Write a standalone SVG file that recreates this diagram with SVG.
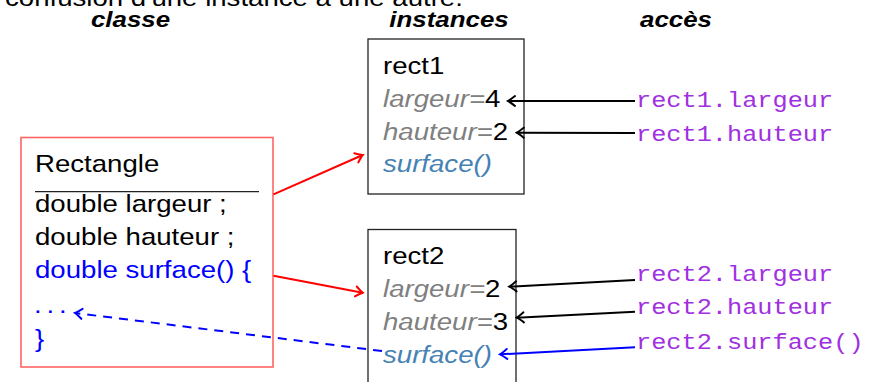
<svg xmlns="http://www.w3.org/2000/svg" width="869" height="382" viewBox="0 0 869 382">
<style>
  text { font-family: "Liberation Sans", Arial, sans-serif; font-size: 24px; fill: #000; }
  .hdr { font-weight: bold; font-style: italic; font-size: 22.5px; text-anchor: middle; }
  .mono { font-family: "Liberation Mono", "Courier New", monospace; font-size: 22px; fill: #a030e0; }
  .attr { font-style: italic; fill: #808080; }
  .meth { font-style: italic; fill: #4682b4; }
  .blue { fill: #0000ff; }
  .box { fill: #fff; stroke: #222; stroke-width: 1.3; }
  .cls { fill: #fff; stroke: #ff6464; stroke-width: 1.6; }
  .conn line { stroke-width: 2; fill: none; }
  .k { stroke: #000; marker-end: url(#ak); }
  .r { stroke: #ff0000; marker-end: url(#ar); }
  .b { stroke: #0000ff; marker-end: url(#ab); }
  .bd { stroke: #0000ff; stroke-dasharray: 9 7; marker-end: url(#ab); }
</style>
<defs>
  <marker id="ak" viewBox="-9 -7 11 14" refX="0" refY="0" markerWidth="11" markerHeight="14" orient="auto" markerUnits="userSpaceOnUse">
    <path d="M-7,-5 Q-2,-1 0,0 Q-2,1 -7,5" fill="none" stroke="#000" stroke-width="2" stroke-linecap="round"/>
  </marker>
  <marker id="ar" viewBox="-9 -7 11 14" refX="0" refY="0" markerWidth="11" markerHeight="14" orient="auto" markerUnits="userSpaceOnUse">
    <path d="M-7,-5 Q-2,-1 0,0 Q-2,1 -7,5" fill="none" stroke="#ff0000" stroke-width="2" stroke-linecap="round"/>
  </marker>
  <marker id="ab" viewBox="-9 -7 11 14" refX="0" refY="0" markerWidth="11" markerHeight="14" orient="auto" markerUnits="userSpaceOnUse">
    <path d="M-7,-5 Q-2,-1 0,0 Q-2,1 -7,5" fill="none" stroke="#0000ff" stroke-width="2" stroke-linecap="round"/>
  </marker>
</defs>
<rect width="869" height="382" fill="#fff"/>

<text transform="translate(5,6) scale(1.15,1)">confusion d'une instance à une autre.</text>

<g id="headers">
  <text class="hdr" transform="translate(130.5,27) scale(1.15,1)">classe</text>
  <text class="hdr" transform="translate(449,27) scale(1.15,1)">instances</text>
  <text class="hdr" transform="translate(676,27) scale(1.15,1)">accès</text>
</g>

<g id="Rectangle">
  <rect class="cls" x="21" y="137.5" width="252" height="229.5"/>
  <line x1="35" y1="191.7" x2="259" y2="191.7" stroke="#222" stroke-width="1.2"/>
  <text transform="translate(35,172) scale(1.15,1)">Rectangle</text>
  <text transform="translate(35,212) scale(1.15,1)">double largeur ;</text>
  <text transform="translate(35,245) scale(1.15,1)">double hauteur ;</text>
  <text class="blue" transform="translate(35,278) scale(1.15,1)">double surface() {</text>
  <text class="blue" transform="translate(34,313) scale(1.15,1)" letter-spacing="4.2">...</text>
  <text class="blue" transform="translate(35,347) scale(1.15,1)">}</text>
</g>

<g id="rect1">
  <rect class="box" x="368" y="39" width="156" height="155"/>
  <text transform="translate(383,74) scale(1.15,1)">rect1</text>
  <text transform="translate(383,107) scale(1.15,1)"><tspan class="attr">largeur=</tspan>4</text>
  <text transform="translate(383,140) scale(1.15,1)"><tspan class="attr">hauteur=</tspan>2</text>
  <text class="meth" transform="translate(383,172) scale(1.15,1)">surface()</text>
</g>

<g id="rect2">
  <rect class="box" x="368" y="229.5" width="148" height="170"/>
  <text transform="translate(383,264) scale(1.15,1)">rect2</text>
  <text transform="translate(383,297) scale(1.15,1)"><tspan class="attr">largeur=</tspan>2</text>
  <text transform="translate(383,330) scale(1.15,1)"><tspan class="attr">hauteur=</tspan>3</text>
  <text class="meth" transform="translate(383,363) scale(1.15,1)">surface()</text>
</g>

<g id="acces">
  <text class="mono" transform="translate(636,107) scale(1.15,1)">rect1.largeur</text>
  <text class="mono" transform="translate(636,140.5) scale(1.15,1)">rect1.hauteur</text>
  <text class="mono" transform="translate(636,281) scale(1.15,1)">rect2.largeur</text>
  <text class="mono" transform="translate(636,313.5) scale(1.15,1)">rect2.hauteur</text>
  <text class="mono" transform="translate(636,348.5) scale(1.15,1)">rect2.surface()</text>
</g>

<g id="connectors" class="conn">
  <line class="r" x1="273.5" y1="194.3" x2="362.7" y2="155"/>
  <line class="r" x1="273.5" y1="275.7" x2="362.7" y2="292.7"/>
  <line class="k" x1="635" y1="101" x2="508" y2="101"/>
  <line class="k" x1="635" y1="133" x2="516.7" y2="132.7"/>
  <line class="k" x1="635" y1="280" x2="509.3" y2="286.7"/>
  <line class="k" x1="635" y1="311.7" x2="516.7" y2="317.7"/>
  <line class="b" x1="635" y1="347.3" x2="500" y2="354.3"/>
  <line class="bd" x1="382" y1="351" x2="75" y2="313"/>
</g>
</svg>
